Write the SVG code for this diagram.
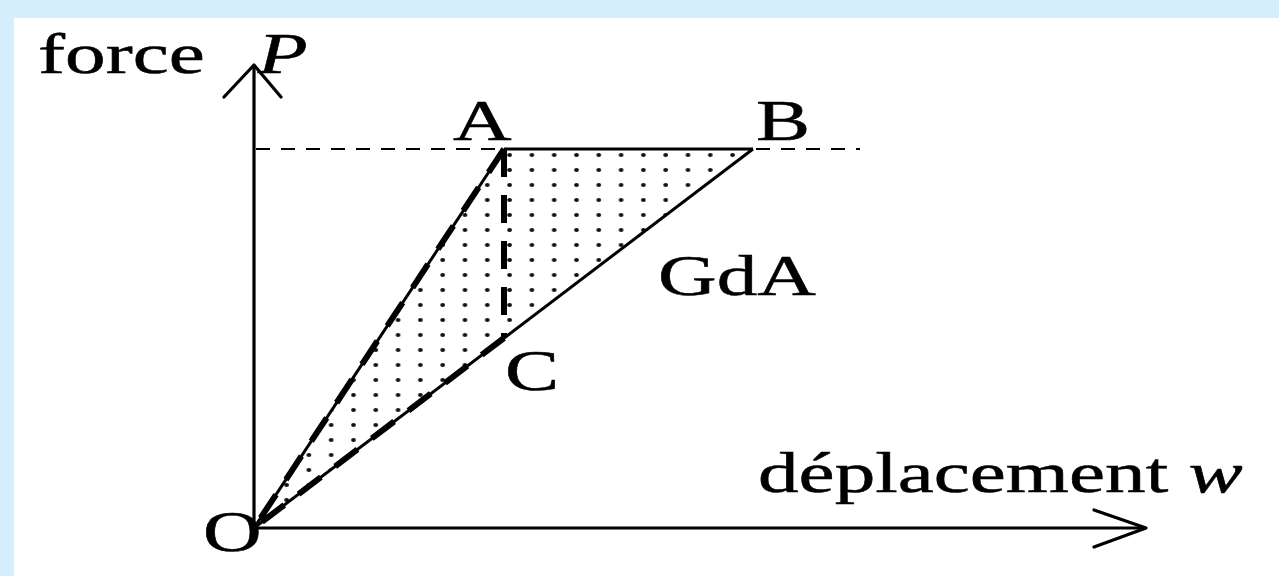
<svg xmlns="http://www.w3.org/2000/svg" width="1279" height="576" viewBox="0 0 1279 576">
  <style>
    .lbl { font-family: "Liberation Serif", "Times New Roman", serif; font-size: 56px; fill: #000; stroke: #000; stroke-width: 0.5; }
    .it { font-style: italic; }
    .axis { stroke: #000; stroke-width: 3.2; fill: none; stroke-linecap: round; stroke-linejoin: round; }
    .thin { stroke: #000; stroke-width: 3; fill: none; }
    .guide { stroke: #000; stroke-width: 1.8; stroke-dasharray: 14 11; fill: none; }
    .heavy { stroke: #000; stroke-width: 6; stroke-dasharray: 28 18; fill: none; }
  </style>
  <defs>
    <pattern id="dots" patternUnits="userSpaceOnUse" x="0" y="0" width="22.3" height="15">
      <ellipse cx="19" cy="5" rx="2.4" ry="1.9" fill="#111"/>
    </pattern>
  </defs>
  <rect x="0" y="0" width="1279" height="576" fill="#d4eefc"/>
  <rect x="14" y="18" width="1265" height="558" fill="#ffffff"/>

  <g id="region-OAB">
    <polygon points="254,528 504,149 753,149" fill="url(#dots)"/>
  </g>

  <g id="connectors">
    <!-- axes -->
    <line class="axis" x1="254" y1="530" x2="254" y2="66"/>
    <polyline class="axis" points="224,97 254,65 281,97"/>
    <line class="axis" x1="254" y1="528" x2="1145" y2="528"/>
    <polyline class="axis" points="1094,510 1146,528 1094,547"/>
    <!-- dashed guide line at P level -->
    <line class="guide" x1="256" y1="149" x2="860" y2="149"/>
    <!-- A to B -->
    <line class="thin" x1="504" y1="149" x2="753" y2="149"/>
    <!-- O to B (GdA) -->
    <line class="thin" x1="254" y1="528" x2="753" y2="149"/>
    <!-- O to A -->
    <line class="thin" x1="254" y1="528" x2="504" y2="149" stroke-width="3.6"/>
    <!-- heavy dashed path O-A, A-C, C-O -->
    <line class="heavy" x1="504" y1="149" x2="254" y2="528"/>
    <line class="heavy" x1="504" y1="149" x2="504" y2="338" stroke-width="7"/>
    <line class="heavy" x1="504" y1="338" x2="254" y2="528"/>
  </g>

  <g id="label-force">
    <text class="lbl" transform="translate(38,73) scale(1.45,1)">force</text>
    <text class="lbl it" transform="translate(258,73) scale(1.45,1)">P</text>
  </g>
  <g id="node-A"><text class="lbl" transform="translate(453,140) scale(1.45,1)">A</text></g>
  <g id="node-B"><text class="lbl" transform="translate(756,140) scale(1.45,1)">B</text></g>
  <g id="label-GdA"><text class="lbl" transform="translate(658,295) scale(1.45,1)">GdA</text></g>
  <g id="node-C"><text class="lbl" transform="translate(505,390) scale(1.45,1)">C</text></g>
  <g id="node-O"><text class="lbl" transform="translate(203,551) scale(1.45,1)">O</text></g>
  <g id="label-w">
    <text class="lbl" transform="translate(758,492) scale(1.45,1)">déplacement <tspan class="it">w</tspan></text>
  </g>
</svg>
